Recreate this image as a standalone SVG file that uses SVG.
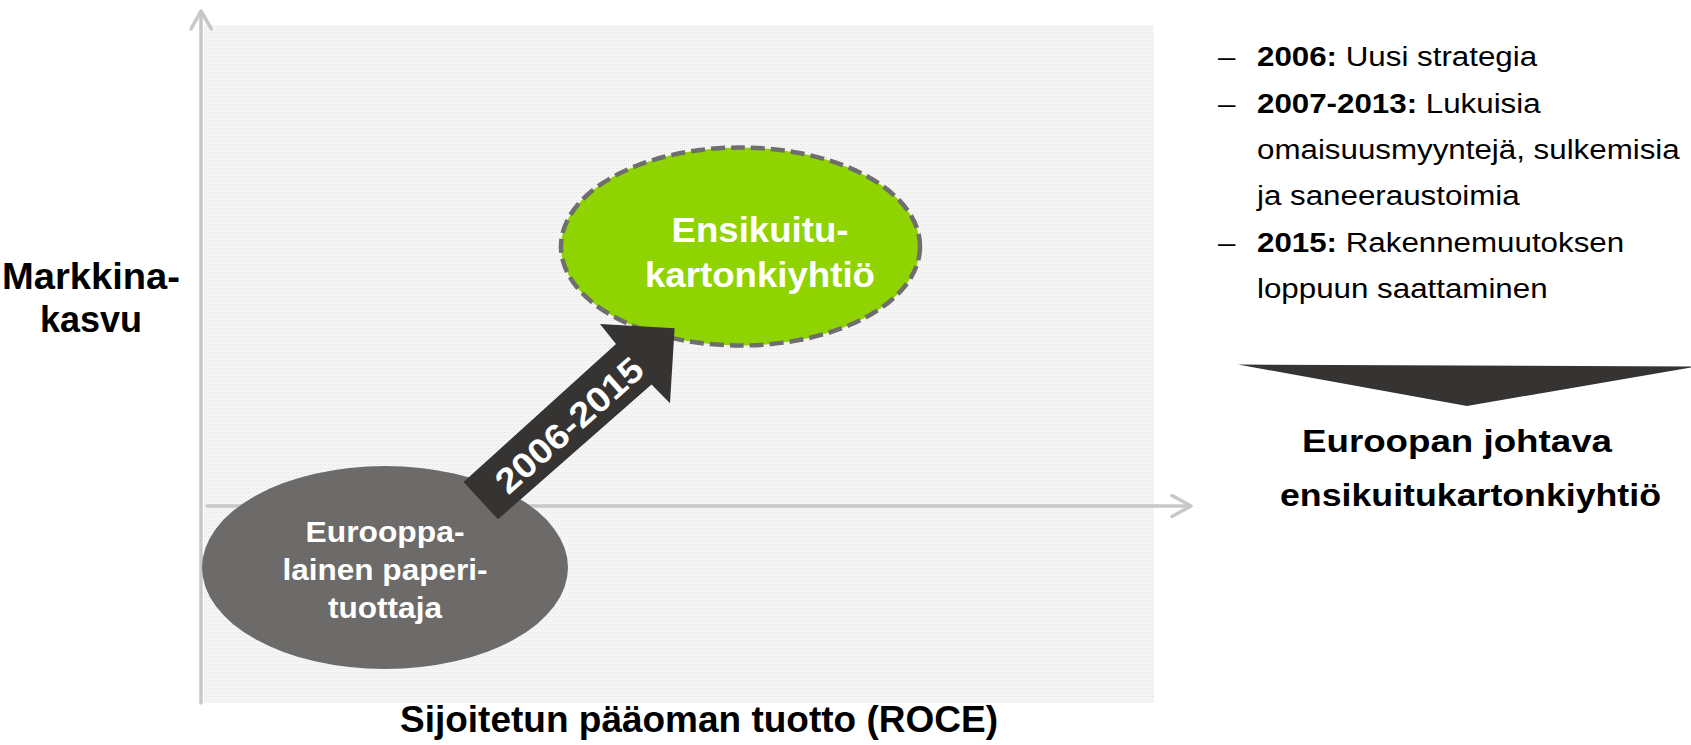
<svg xmlns="http://www.w3.org/2000/svg" width="1691" height="745" viewBox="0 0 1691 745">
<defs>
<pattern id="dots" width="4" height="4" patternUnits="userSpaceOnUse">
<rect width="4" height="4" fill="#f6f6f6"/>
<rect x="0" y="0" width="1" height="1" fill="#e2e2e2"/>
<rect x="2" y="2" width="1" height="1" fill="#e2e2e2"/>
<rect x="2" y="0" width="1" height="1" fill="#ececec"/>
</pattern>
<style>
.axis{stroke:#c8c8c8;stroke-width:3.5;fill:none;stroke-linecap:round;stroke-linejoin:round}
.b{font-family:"Liberation Sans",Arial,sans-serif;font-weight:bold}
.r{font-family:"Liberation Sans",Arial,sans-serif;font-weight:normal}
.w{fill:#ffffff}
.k{fill:#000000}
</style>
</defs>
<rect width="1691" height="745" fill="#ffffff"/>
<rect id="plot-area" x="204" y="25" width="950" height="678" fill="url(#dots)"/>
<g id="axes">
<line class="axis" x1="201" y1="12" x2="201" y2="703"/>
<polyline class="axis" points="191,29 201,11 211.5,29"/>
<line class="axis" x1="207" y1="506" x2="1190" y2="506"/>
<polyline class="axis" points="1172,495.5 1191,506 1172,516.5"/>
</g>
<g id="node-ensikuitu">
<ellipse cx="740.5" cy="246.5" rx="179.5" ry="99" fill="#8fd300" stroke="#6e6e6e" stroke-width="4.5" stroke-dasharray="14 6"/>
<text class="b w" x="760" y="241.5" font-size="35" text-anchor="middle" textLength="177" lengthAdjust="spacingAndGlyphs">Ensikuitu-</text>
<text class="b w" x="760" y="286.5" font-size="35" text-anchor="middle" textLength="230" lengthAdjust="spacingAndGlyphs">kartonkiyhtiö</text>
</g>
<g id="node-eurooppalainen">
<ellipse cx="385" cy="567.5" rx="183" ry="101.5" fill="#6d6b69"/>
<text class="b w" x="385" y="541.5" font-size="29" text-anchor="middle" textLength="159" lengthAdjust="spacingAndGlyphs">Eurooppa-</text>
<text class="b w" x="385" y="580" font-size="29" text-anchor="middle" textLength="205" lengthAdjust="spacingAndGlyphs">lainen paperi-</text>
<text class="b w" x="385" y="618.3" font-size="29" text-anchor="middle" textLength="114" lengthAdjust="spacingAndGlyphs">tuottaja</text>
</g>
<g id="connectors">
<polygon points="463.5,482 616,344 600,324 674.6,328.3 670,403.3 651.5,384.5 498,519.3" fill="#363432"/>
<text class="b w" transform="translate(569 425) rotate(-41.6)" x="0" y="12.5" font-size="35" text-anchor="middle" textLength="185" lengthAdjust="spacingAndGlyphs">2006-2015</text>
</g>
<g id="label-y">
<text class="b k" x="91" y="289" font-size="36" text-anchor="middle" textLength="178" lengthAdjust="spacingAndGlyphs">Markkina-</text>
<text class="b k" x="91" y="331.5" font-size="36" text-anchor="middle">kasvu</text>
</g>
<g id="label-x">
<text class="b k" x="699" y="731.5" font-size="36" text-anchor="middle" textLength="598" lengthAdjust="spacingAndGlyphs">Sijoitetun pääoman tuotto (ROCE)</text>
</g>
<g id="timeline-list" font-size="27">
<g transform="translate(1218 0) scale(1.16 1)">
<text class="r k" x="0" y="66.5">–</text>
<text class="r k" x="0" y="112.8">–</text>
<text class="r k" x="0" y="251.7">–</text>
</g>
<g transform="translate(1257 0) scale(1.16 1)">
<text class="r k" x="0" y="66.5"><tspan class="b">2006:</tspan> Uusi strategia</text>
<text class="r k" x="0" y="112.8"><tspan class="b">2007-2013:</tspan> Lukuisia</text>
<text class="r k" x="0" y="159.1">omaisuusmyyntejä, sulkemisia</text>
<text class="r k" x="0" y="205.4">ja saneeraustoimia</text>
<text class="r k" x="0" y="251.7"><tspan class="b">2015:</tspan> Rakennemuutoksen</text>
<text class="r k" x="0" y="298">loppuun saattaminen</text>
</g>
</g>
<g id="result">
<polygon points="1238,364.5 1697,366.5 1467,406" fill="#363432"/>
<text class="b k" x="1302" y="452" font-size="32" textLength="310" lengthAdjust="spacingAndGlyphs">Euroopan johtava</text>
<text class="b k" x="1280" y="506" font-size="32" textLength="381" lengthAdjust="spacingAndGlyphs">ensikuitukartonkiyhtiö</text>
</g>
</svg>
